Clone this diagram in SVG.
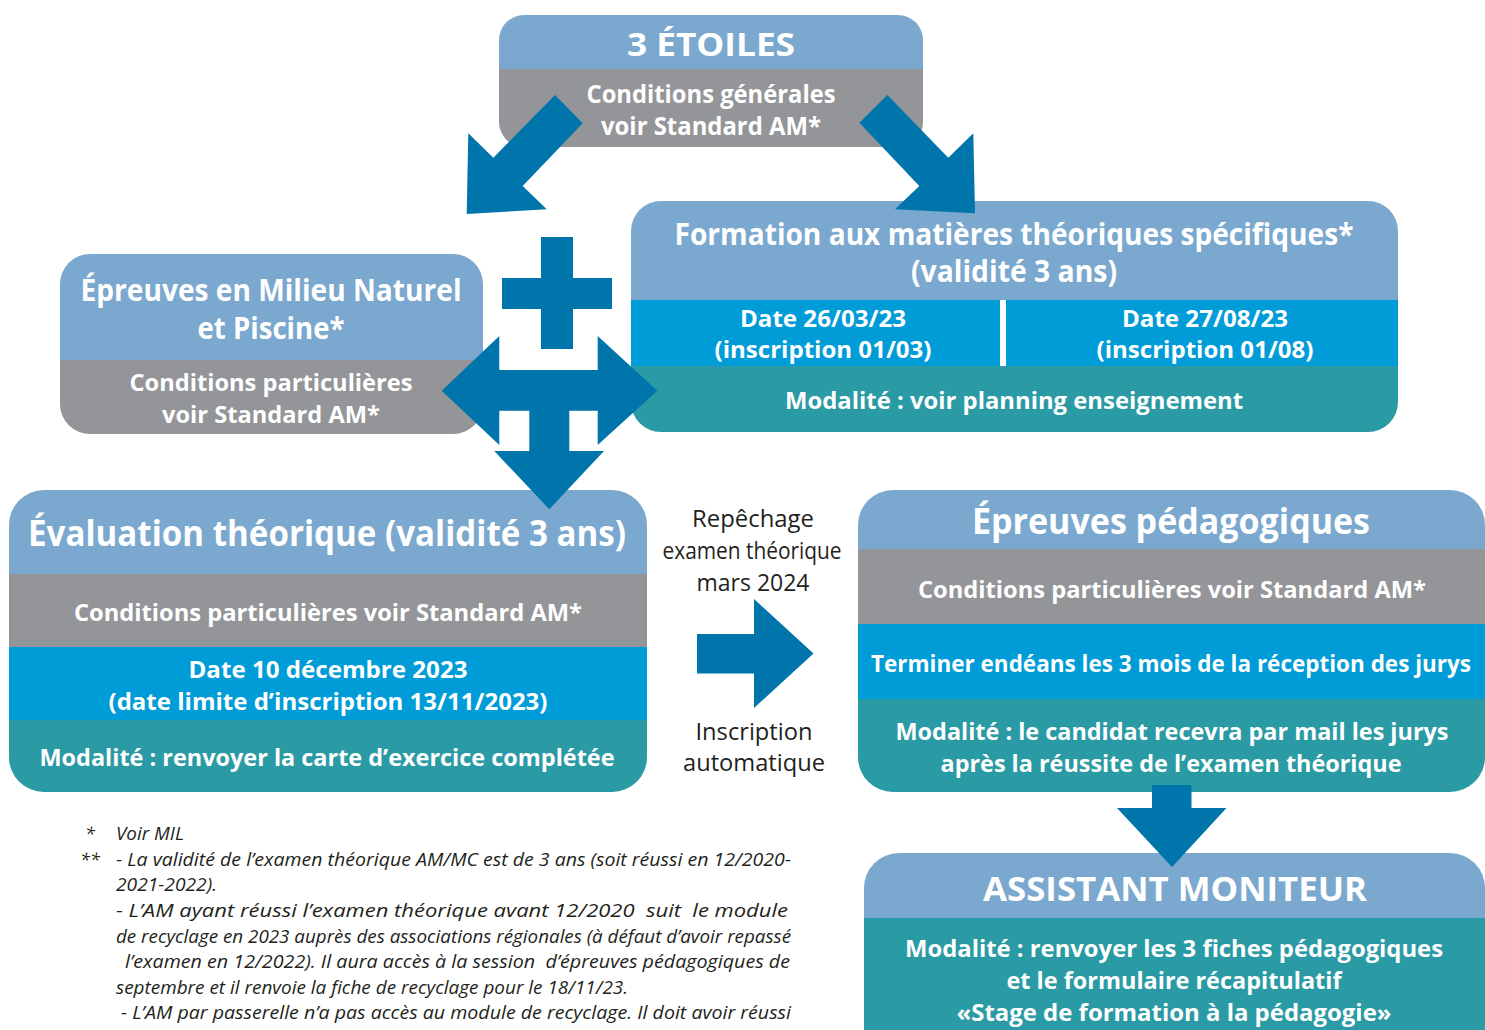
<svg xmlns="http://www.w3.org/2000/svg" width="1485" height="1030" viewBox="0 0 1485 1030">
<style>
.hd{fill:#7BA8CE}.gr{fill:#939598}.bb{fill:#009CD7}.tl{fill:#2A9AA5}.ar{fill:#0075AC}
text{font-family:"Open Sans","Liberation Sans",sans-serif}
.w{font-weight:700;fill:#fff;text-anchor:middle}
.big{font-size:36px}.h2{font-size:30px}.b24{font-size:25px}.b23{font-size:24px}
.m{font-weight:400;fill:#231F20;text-anchor:middle;font-size:23px}
.f{font-style:italic;font-size:18px;fill:#231F20;white-space:pre}
</style>
<defs>
<clipPath id="c1"><rect x="499" y="15" width="424" height="132" rx="25"/></clipPath>
<clipPath id="c2"><rect x="631" y="201" width="767" height="231" rx="30"/></clipPath>
<clipPath id="c3"><rect x="60" y="254" width="423" height="180" rx="30"/></clipPath>
<clipPath id="c4"><rect x="9" y="490" width="638" height="302" rx="35"/></clipPath>
<clipPath id="c5"><rect x="858" y="490" width="627" height="302" rx="35"/></clipPath>
<clipPath id="c6"><rect x="864" y="853" width="621" height="220" rx="35"/></clipPath>
</defs>
<rect width="1485" height="1030" fill="#fff"/>

<g id="etoiles">
<g clip-path="url(#c1)">
<rect class="hd" x="499" y="15" width="424" height="54"/>
<rect class="gr" x="499" y="69" width="424" height="78"/>
</g>
<text class="w" style="font-size:33px" x="711" y="56" textLength="168" lengthAdjust="spacingAndGlyphs">3 ÉTOILES</text>
<text class="w b24" x="711" y="103" textLength="249" lengthAdjust="spacingAndGlyphs">Conditions générales</text>
<text class="w b24" x="711" y="135" textLength="220" lengthAdjust="spacingAndGlyphs">voir Standard AM*</text>
</g>

<g id="formation">
<g clip-path="url(#c2)">
<rect class="hd" x="631" y="201" width="767" height="99"/>
<rect class="bb" x="631" y="300" width="767" height="66"/>
<rect class="tl" x="631" y="366" width="767" height="66"/>
<rect fill="#fff" x="1000" y="300" width="6" height="66"/>
</g>
<text class="w h2" x="1014" y="245" textLength="679" lengthAdjust="spacingAndGlyphs">Formation aux matières théoriques spécifiques*</text>
<text class="w h2" x="1014" y="282" textLength="206" lengthAdjust="spacingAndGlyphs">(validité 3 ans)</text>
<text class="w b23" x="823" y="327" textLength="166" lengthAdjust="spacingAndGlyphs">Date 26/03/23</text>
<text class="w b23" x="823" y="358" textLength="217" lengthAdjust="spacingAndGlyphs">(inscription 01/03)</text>
<text class="w b23" x="1205" y="327" textLength="166" lengthAdjust="spacingAndGlyphs">Date 27/08/23</text>
<text class="w b23" x="1205" y="358" textLength="217" lengthAdjust="spacingAndGlyphs">(inscription 01/08)</text>
<text class="w b23" x="1014" y="409" textLength="458" lengthAdjust="spacingAndGlyphs">Modalité : voir planning enseignement</text>
</g>

<g id="milieu">
<g clip-path="url(#c3)">
<rect class="hd" x="60" y="254" width="423" height="106"/>
<rect class="gr" x="60" y="360" width="423" height="74"/>
</g>
<text class="w h2" x="271" y="301" textLength="381" lengthAdjust="spacingAndGlyphs">Épreuves en Milieu Naturel</text>
<text class="w h2" x="271" y="339" textLength="147" lengthAdjust="spacingAndGlyphs">et Piscine*</text>
<text class="w b23" x="271" y="391" textLength="283" lengthAdjust="spacingAndGlyphs">Conditions particulières</text>
<text class="w b23" x="271" y="423" textLength="218" lengthAdjust="spacingAndGlyphs">voir Standard AM*</text>
</g>

<g id="evaluation">
<g clip-path="url(#c4)">
<rect class="hd" x="9" y="490" width="638" height="84"/>
<rect class="gr" x="9" y="574" width="638" height="73"/>
<rect class="bb" x="9" y="647" width="638" height="73"/>
<rect class="tl" x="9" y="720" width="638" height="72"/>
</g>
<text class="w big" x="327" y="546" textLength="598" lengthAdjust="spacingAndGlyphs">Évaluation théorique (validité 3 ans)</text>
<text class="w b23" x="328" y="621" textLength="508" lengthAdjust="spacingAndGlyphs">Conditions particulières voir Standard AM*</text>
<text class="w b23" x="328" y="678" textLength="279" lengthAdjust="spacingAndGlyphs">Date 10 décembre 2023</text>
<text class="w b23" x="328" y="710" textLength="439" lengthAdjust="spacingAndGlyphs">(date limite d’inscription 13/11/2023)</text>
<text class="w b23" x="327" y="766" textLength="575" lengthAdjust="spacingAndGlyphs">Modalité : renvoyer la carte d’exercice complétée</text>
</g>

<g id="repechage">
<text class="m" x="753" y="527" textLength="122" lengthAdjust="spacingAndGlyphs">Repêchage</text>
<text class="m" x="752" y="559" textLength="179" lengthAdjust="spacingAndGlyphs">examen théorique</text>
<text class="m" x="753" y="591" textLength="113" lengthAdjust="spacingAndGlyphs">mars 2024</text>
<text class="m" x="754" y="740" textLength="117" lengthAdjust="spacingAndGlyphs">Inscription</text>
<text class="m" x="754" y="771" textLength="142" lengthAdjust="spacingAndGlyphs">automatique</text>
</g>

<g id="pedagogiques">
<g clip-path="url(#c5)">
<rect class="hd" x="858" y="490" width="627" height="59"/>
<rect class="gr" x="858" y="549" width="627" height="75"/>
<rect class="bb" x="858" y="624" width="627" height="75"/>
<rect class="tl" x="858" y="699" width="627" height="93"/>
</g>
<text class="w big" x="1171" y="534" textLength="398" lengthAdjust="spacingAndGlyphs">Épreuves pédagogiques</text>
<text class="w b23" x="1172" y="598" textLength="508" lengthAdjust="spacingAndGlyphs">Conditions particulières voir Standard AM*</text>
<text class="w" style="font-size:23px" x="1171" y="672" textLength="600" lengthAdjust="spacingAndGlyphs">Terminer endéans les 3 mois de la réception des jurys</text>
<text class="w b23" x="1172" y="740" textLength="553" lengthAdjust="spacingAndGlyphs">Modalité : le candidat recevra par mail les jurys</text>
<text class="w b23" x="1171" y="772" textLength="461" lengthAdjust="spacingAndGlyphs">après la réussite de l’examen théorique</text>
</g>

<g id="assistant">
<g clip-path="url(#c6)">
<rect class="hd" x="864" y="853" width="621" height="65"/>
<rect class="tl" x="864" y="918" width="621" height="155"/>
</g>
<text class="w" style="font-size:34px" x="1175" y="901" textLength="384" lengthAdjust="spacingAndGlyphs">ASSISTANT MONITEUR</text>
<text class="w b23" x="1174" y="957" textLength="538" lengthAdjust="spacingAndGlyphs">Modalité : renvoyer les 3 fiches pédagogiques</text>
<text class="w b23" x="1174" y="989" textLength="335" lengthAdjust="spacingAndGlyphs">et le formulaire récapitulatif</text>
<text class="w b23" x="1174" y="1021" textLength="435" lengthAdjust="spacingAndGlyphs">«Stage de formation à la pédagogie»</text>
</g>

<g id="notes">
<text class="f" x="85" y="840">*</text>
<text class="f" x="116" y="840" textLength="68" lengthAdjust="spacingAndGlyphs">Voir MIL</text>
<text class="f" x="80" y="866">**</text>
<text class="f" x="116" y="866" textLength="675" lengthAdjust="spacingAndGlyphs">- La validité de l’examen théorique AM/MC est de 3 ans (soit réussi en 12/2020-</text>
<text class="f" x="116" y="891" textLength="101" lengthAdjust="spacingAndGlyphs">2021-2022).</text>
<text class="f" x="116" y="917" textLength="672" lengthAdjust="spacingAndGlyphs">- L’AM ayant réussi l’examen théorique avant 12/2020  suit  le module</text>
<text class="f" x="116" y="943" textLength="675" lengthAdjust="spacingAndGlyphs">de recyclage en 2023 auprès des associations régionales (à défaut d’avoir repassé</text>
<text class="f" x="125" y="968" textLength="665" lengthAdjust="spacingAndGlyphs">l’examen en 12/2022). Il aura accès à la session  d’épreuves pédagogiques de</text>
<text class="f" x="116" y="994" textLength="512" lengthAdjust="spacingAndGlyphs">septembre et il renvoie la fiche de recyclage pour le 18/11/23.</text>
<text class="f" x="121" y="1019" textLength="670" lengthAdjust="spacingAndGlyphs">- L’AM par passerelle n’a pas accès au module de recyclage. Il doit avoir réussi</text>
</g>

<g id="connectors">
<path class="ar" d="M555,95 L582.7,123.3 L522.7,186 L546.7,209.3 L466.7,214 L468.3,133.3 L493.3,157.7 Z"/>
<path class="ar" d="M887.3,95 L859.3,122.7 L919.3,186 L895,209.3 L975,213.3 L973.3,133.3 L948.3,157.7 Z"/>
<rect class="ar" x="541" y="237" width="32" height="112"/>
<rect class="ar" x="502" y="278" width="110" height="31"/>
<path class="ar" d="M441.7,390.7 L499.3,336 L499.3,370 L597.7,370 L597.7,336 L657.3,390.7 L597.7,445 L597.7,410.7 L569.3,410.7 L569.3,451 L604,451 L549.3,509.3 L494.3,451 L529.3,451 L529.3,410.7 L499.3,410.7 L499.3,445 Z"/>
<path class="ar" d="M697,634 L754,634 L754,599 L813.5,653.5 L754,708 L754,673.5 L697,673.5 Z"/>
<path class="ar" d="M1152,785 L1191.5,785 L1191.5,808 L1226.5,808 L1172,867 L1117,808 L1152,808 Z"/>
</g>
</svg>
